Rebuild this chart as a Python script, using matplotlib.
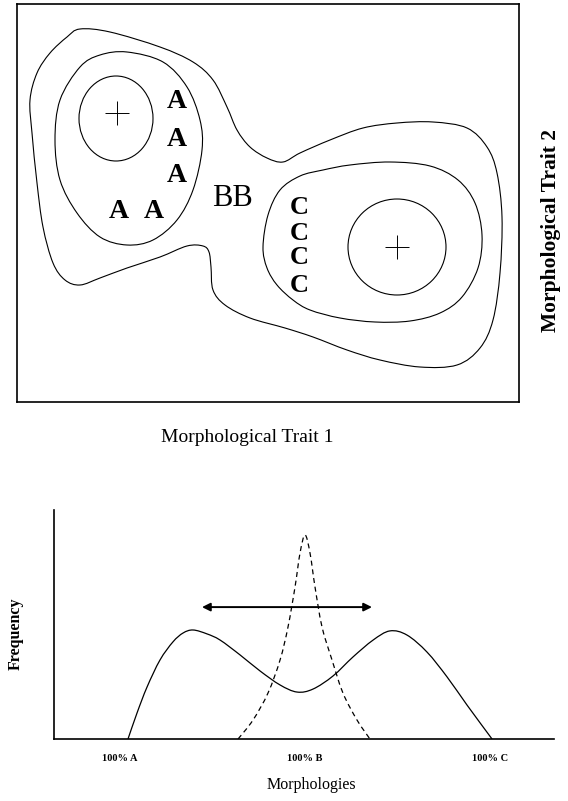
import numpy as np
import matplotlib
matplotlib.use("Agg")
import matplotlib.pyplot as plt
from matplotlib.path import Path
from matplotlib.patches import PathPatch, Ellipse

plt.rcParams["font.family"] = ["Liberation Serif", "DejaVu Serif"]

W, H = 568, 801

# --- top panel: contours in trait space (trait 2 axis runs downward) ---
outer_x = [80, 110, 160, 193, 213, 227, 237, 250, 267, 283, 300, 330, 363, 397, 433,
           467, 487, 497, 502, 500, 493, 480, 457, 420, 380, 347, 313, 285, 250, 225,
           213, 211, 209, 203, 187, 160, 127, 100, 80, 65, 53, 43, 37, 32, 30, 37, 50, 67]
outer_y = [29, 32, 47, 62, 80, 107, 130, 147, 158, 162, 153, 140, 128, 123, 122,
           128, 147, 173, 217, 273, 320, 348, 365, 367, 360, 350, 337, 328, 318, 305,
           290, 267, 252, 246, 246, 257, 268, 278, 285, 280, 263, 227, 183, 133, 100, 73, 53, 37]

mid_a_x = [127, 163, 187, 200, 202, 193, 177, 153, 127, 100, 77, 60, 55, 60, 80, 100]
mid_a_y = [52, 62, 87, 120, 150, 190, 220, 240, 245, 237, 213, 180, 140, 100, 67, 55]

mid_c_x = [263, 268, 280, 300, 323, 350, 390, 430, 458, 475, 482, 478, 462, 440, 410,
           375, 340, 310, 293, 277, 267]
mid_c_y = [247, 215, 190, 176, 170, 165, 162, 166, 180, 203, 235, 268, 297, 313, 321,
           322, 318, 310, 300, 285, 268]

# inner rings: centre x, centre y, width, height
inner_rings = [(116, 118.5, 74, 85), (397, 247, 98, 96)]
optima_x = [117, 397]
optima_y = [113, 247]

a_x = [177, 177, 177, 119, 154]
a_y = [102, 139, 176, 212, 212]
b_xy = (232, 198)
c_x = [299, 299, 299, 299]
c_y = [207, 234, 258, 285]

# --- bottom panel: frequency along morphology axis (0 = 100% A, 1 = 100% B, 2 = 100% C) ---
solid_x = [0.043, 0.092, 0.146, 0.216, 0.286, 0.341, 0.395, 0.470, 0.541, 0.649, 0.757,
           0.865, 0.957, 1.043, 1.151, 1.259, 1.368, 1.459, 1.551, 1.659, 1.768, 1.876, 2.011]
solid_y = [0.0, 0.114, 0.227, 0.345, 0.424, 0.463, 0.476, 0.459, 0.432, 0.367, 0.297,
           0.236, 0.205, 0.218, 0.275, 0.358, 0.432, 0.472, 0.454, 0.380, 0.271, 0.148, 0.0]
dashed_x = [0.638, 0.719, 0.800, 0.865, 0.908, 0.946, 0.973, 1.0, 1.027, 1.054, 1.092,
            1.146, 1.205, 1.281, 1.351]
dashed_y = [0.0, 0.083, 0.201, 0.345, 0.489, 0.664, 0.812, 0.891, 0.812, 0.664, 0.489,
            0.345, 0.201, 0.083, 0.0]
arrow_span = (0.443, 1.362)
arrow_level = 0.576
tick_pos = [0, 1, 2]
tick_labels = ["100% A", "100% B", "100% C"]


def smooth_path(xs, ys, closed=False):
    # Catmull-Rom through the read points, drawn as cubic Bezier segments
    pts = np.column_stack([xs, ys]).astype(float)
    if closed:
        ext = np.vstack([pts[-1], pts, pts[0], pts[1]])
    else:
        ext = np.vstack([pts[0], pts, pts[-1]])
    verts = [ext[1]]
    codes = [Path.MOVETO]
    for i in range(1, len(ext) - 2):
        p0, p1, p2, p3 = ext[i - 1], ext[i], ext[i + 1], ext[i + 2]
        verts += [p1 + (p2 - p0) / 6, p2 - (p3 - p1) / 6, p2]
        codes += [Path.CURVE4] * 3
    return Path(verts, codes)


fig = plt.figure(figsize=(W / 100, H / 100), dpi=100)

ax1 = fig.add_axes([17 / W, 1 - 402 / H, 502 / W, 398 / H])
ax1.set_xlim(17, 519)
ax1.set_ylim(402, 4)
ax1.set_xticks([])
ax1.set_yticks([])
for s in ax1.spines.values():
    s.set_linewidth(1.2)

for xs, ys in [(outer_x, outer_y), (mid_a_x, mid_a_y), (mid_c_x, mid_c_y)]:
    ax1.add_patch(PathPatch(smooth_path(xs, ys, closed=True), fill=False, lw=0.8, ec="black"))
for cx, cy, w, h in inner_rings:
    ax1.add_patch(Ellipse((cx, cy), w, h, fill=False, lw=0.8, ec="black"))
ax1.plot(optima_x, optima_y, "+", color="black", ms=17, mew=0.7)

for x, y in zip(a_x, a_y):
    ax1.text(x, y, "A", fontsize=20, fontweight="bold", ha="center", va="center")
ax1.text(b_xy[0], b_xy[1], "BB", fontsize=22, ha="center", va="center")
for x, y in zip(c_x, c_y):
    ax1.text(x, y, "C", fontsize=19, fontweight="bold", ha="center", va="center")

fig.text(247 / W, 1 - 438 / H, "Morphological Trait 1", fontsize=14, ha="center", va="center")
fig.text(551 / W, 1 - 231 / H, "Morphological Trait 2", fontsize=15.5, fontweight="bold",
         rotation=90, ha="center", va="center")

ax2 = fig.add_axes([54 / W, 1 - 739 / H, 500 / W, 229 / H])
ax2.set_xlim(-0.357, 2.346)
ax2.set_ylim(0, 1.0)
ax2.spines["top"].set_visible(False)
ax2.spines["right"].set_visible(False)
ax2.spines["left"].set_linewidth(1.2)
ax2.spines["bottom"].set_linewidth(1.2)
ax2.set_yticks([])
ax2.set_xticks(tick_pos, tick_labels, fontsize=7.5, fontweight="bold")
ax2.tick_params(axis="x", length=0, pad=11)

ax2.add_patch(PathPatch(smooth_path(solid_x, solid_y), fill=False, lw=0.9, ec="black"))
ax2.add_patch(PathPatch(smooth_path(dashed_x, dashed_y), fill=False, lw=0.9, ec="black",
                        ls=(0, (4, 3))))
ax2.annotate("", xy=(arrow_span[1], arrow_level), xytext=(arrow_span[0], arrow_level),
             arrowprops=dict(arrowstyle="<|-|>", color="black", lw=1.4, mutation_scale=12,
                             shrinkA=0, shrinkB=0))

fig.text(311 / W, 1 - 785 / H, "Morphologies", fontsize=11.5, ha="center", va="center")
fig.text(16 / W, 1 - 634 / H, "Frequency", fontsize=11.5, fontweight="bold", rotation=90,
         ha="center", va="center")

fig.savefig("out.png", dpi=100)
